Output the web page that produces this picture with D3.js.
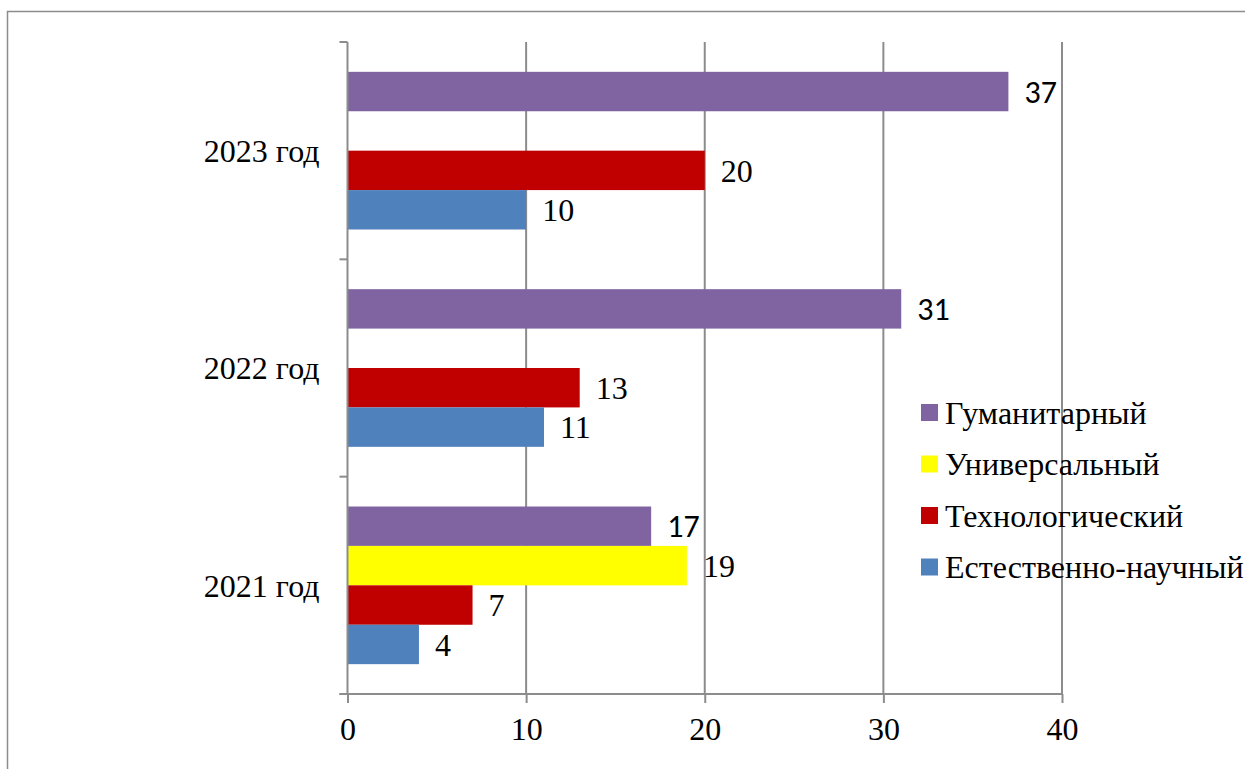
<!DOCTYPE html>
<html>
<head>
<meta charset="utf-8">
<script src="https://cdn.jsdelivr.net/npm/d3@7"></script>
<style>
  body { margin: 0; background: #fff; }
  svg { display: block; }
</style>
</head>
<body>
<div id="chart"></div>
<script>
// chart data
var years = ["2023 год", "2022 год", "2021 год"];
var seriesNames = ["Гуманитарный", "Универсальный", "Технологический", "Естественно-научный"];
var seriesColors = ["#8064A2", "#FFFF00", "#C00000", "#4F81BD"];
// values per year, same order as seriesNames (null = no bar)
var values2023 = [37, null, 20, 10];
var values2022 = [31, null, 13, 11];
var values2021 = [17, 19, 7, 4];
var xTicks = [0, 10, 20, 30, 40];
// labels drawn in the sans font (as in the original picture)
var sansLabels = ["Гуманитарный"];

var width = 1245, height = 769;
var margin = { top: 42, left: 347.5, right: 1062, bottom: 694 };
var serif = "Liberation Serif";
var sans = "Carlito";

var rows = [];
[values2023, values2022, values2021].forEach(function (vals, i) {
    vals.forEach(function (v, j) {
        if (v !== null) rows.push({ year: years[i], series: seriesNames[j], value: v });
    });
});

var svg = d3.select("#chart").append("svg")
    .attr("width", width)
    .attr("height", height);

// outer frame
svg.append("rect")
    .attr("x", 7.5).attr("y", 11.5)
    .attr("width", width + 20).attr("height", height + 20)
    .attr("fill", "none")
    .attr("stroke", "#8c8c8c")
    .attr("stroke-width", 1.5);

var x = d3.scaleLinear().domain([0, 40]).range([margin.left, margin.right]);
var y = d3.scaleBand().domain(years).range([margin.top, margin.bottom]);
var ys = d3.scaleBand().domain(seriesNames).range([0, y.bandwidth()]).paddingOuter(0.757);
var color = d3.scaleOrdinal().domain(seriesNames).range(seriesColors);

// vertical gridlines
svg.append("g").selectAll("line")
    .data(xTicks.slice(1))
    .join("line")
    .attr("x1", d => x(d)).attr("x2", d => x(d))
    .attr("y1", margin.top).attr("y2", margin.bottom)
    .attr("stroke", "#8c8c8c")
    .attr("stroke-width", 2);

// bars
svg.append("g").selectAll("rect")
    .data(rows)
    .join("rect")
    .attr("x", x(0))
    .attr("y", d => y(d.year) + ys(d.series))
    .attr("width", d => x(d.value) - x(0))
    .attr("height", ys.bandwidth())
    .attr("fill", d => color(d.series));

// value labels
svg.append("g").selectAll("text")
    .data(rows)
    .join("text")
    .attr("x", d => x(d.value) + 16)
    .attr("y", d => y(d.year) + ys(d.series) + ys.bandwidth() / 2)
    .attr("dy", "0.35em")
    .attr("font-family", d => sansLabels.indexOf(d.series) >= 0 ? sans : serif)
    .attr("font-size", 32)
    .text(d => d.value);

// x axis
var xAxis = svg.append("g")
    .attr("transform", `translate(0,${margin.bottom})`)
    .call(d3.axisBottom(x).tickValues(xTicks).tickSize(9).tickPadding(14));
xAxis.select(".domain").remove();
xAxis.attr("font-family", serif).attr("font-size", 32);
xAxis.append("line")
    .attr("x1", margin.left - 8).attr("x2", margin.right)
    .attr("stroke", "#8c8c8c").attr("stroke-width", 2);
xAxis.selectAll(".tick line").attr("stroke", "#8c8c8c").attr("stroke-width", 2);
xAxis.selectAll(".tick text").attr("fill", "#000");

// y axis: line, boundary ticks and centred year labels
var yAxis = svg.append("g");
yAxis.append("line")
    .attr("x1", margin.left).attr("x2", margin.left)
    .attr("y1", margin.top).attr("y2", margin.bottom)
    .attr("stroke", "#8c8c8c").attr("stroke-width", 2);
var bounds = years.map(d => y(d)).concat([margin.bottom]);
yAxis.selectAll(".ytick")
    .data(bounds)
    .join("line")
    .attr("class", "ytick")
    .attr("x1", margin.left - 8).attr("x2", margin.left)
    .attr("y1", d => d).attr("y2", d => d)
    .attr("stroke", "#8c8c8c").attr("stroke-width", 2);
yAxis.selectAll("text")
    .data(years)
    .join("text")
    .attr("x", margin.left - 28)
    .attr("y", d => y(d) + y.bandwidth() / 2)
    .attr("dy", "0.35em")
    .attr("text-anchor", "end")
    .attr("font-family", serif)
    .attr("font-size", 32)
    .text(d => d);

// legend
var legend = svg.append("g").attr("transform", "translate(921,404)");
seriesNames.forEach(function (name, i) {
    var row = legend.append("g").attr("transform", `translate(0,${i * 51.5})`);
    row.append("rect")
        .attr("width", 17).attr("height", 17)
        .attr("fill", seriesColors[i]);
    row.append("text")
        .attr("x", 24).attr("y", 8.5)
        .attr("dy", "0.35em")
        .attr("font-family", serif)
        .attr("font-size", 32)
        .text(name);
});
</script>
</body>
</html>
